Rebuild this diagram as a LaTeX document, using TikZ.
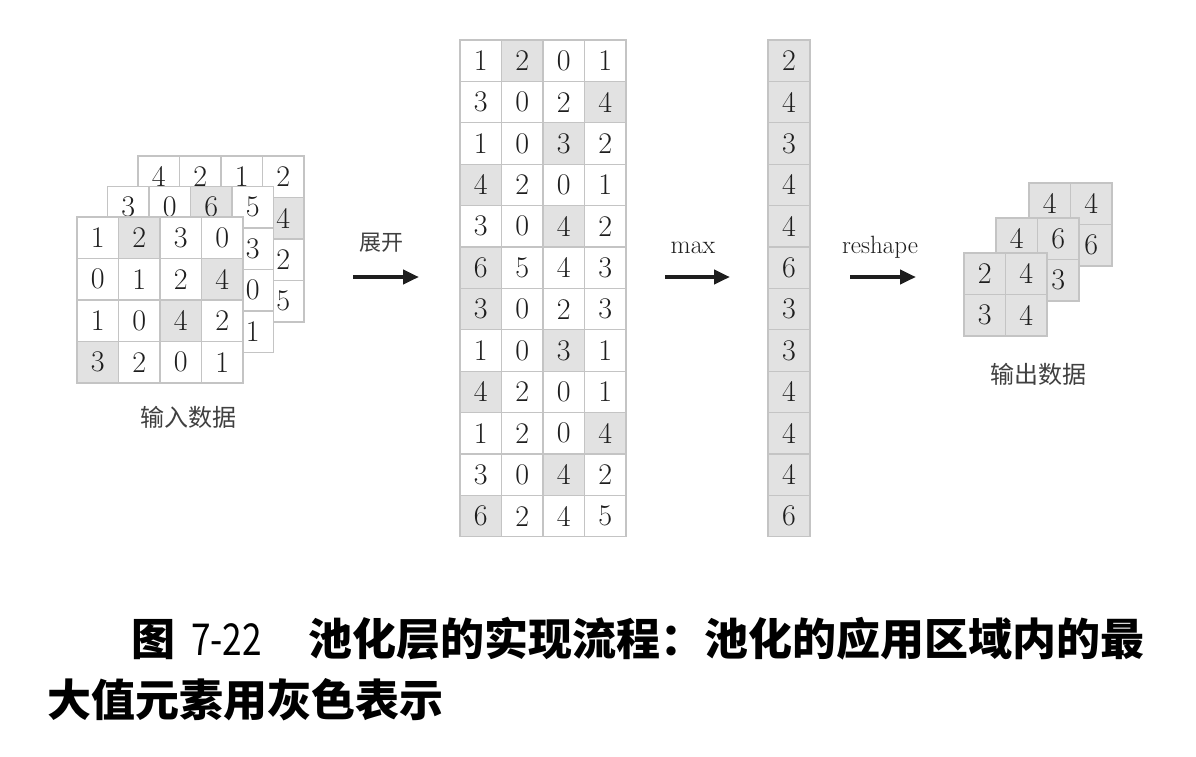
\documentclass[tikz,border=0pt]{standalone}
\usepackage{fontspec}
\usepackage{graphicx}
\newfontfamily\cjk{Noto Sans CJK SC}
\usetikzlibrary{arrows.meta}
\definecolor{gridc}{HTML}{C4C4C4}
\definecolor{cf0}{HTML}{FFFFFF}
\definecolor{cf1}{HTML}{E2E2E2}
\definecolor{txtc}{HTML}{1E1E1E}
\newcommand\digitfont{\fontsize{30}{30}\selectfont}
\tikzset{
  cellbox/.style={draw=gridc, line width=1.2pt, inner sep=0pt, font=\digitfont, text=txtc},
  flowarrow/.style={line width=4.5pt, draw=txtc, -{Triangle[length=16pt,width=14pt]}},
  steplabel/.style={text=txtc, anchor=base},
  cjklabel/.style={text=txtc!85, font=\cjk\fontsize{24}{24}\selectfont},
  captext/.style={text=black, anchor=base west, font=\cjk\bfseries\fontsize{44}{44}\selectfont, inner sep=0pt}
}
% name, x0, y0, cell width, cell height, rows (hidden cells carry no digit)
\newcommand\mymat[6]{%
  \foreach \row [count=\r] in {#6}{%
    \foreach \v/\g [count=\c] in \row {%
      \node[cellbox, minimum width=#4pt, minimum height=#5pt, fill=cf\g] (#1-\r-\c)
        at ({#2+(\c-0.5)*#4},{#3+(\r-0.5)*#5}) {\v};
    }%
  }%
}
\begin{document}
\begin{tikzpicture}[x=1pt,y=-1pt]
\fill[white] (0,0) rectangle (1196,756);
\useasboundingbox (0,0) rectangle (1196,756);

% ---- input data (three channels) ----
\mymat{inc}{138}{156}{41.5}{41.5}{{4/0,2/0,1/0,2/0},{{}/0,{}/0,{}/0,4/1},{{}/0,{}/0,{}/1,2/0},{{}/1,{}/0,{}/0,5/0}}
\mymat{inb}{107.5}{186.5}{41.5}{41.5}{{3/0,0/0,6/1,5/0},{{}/1,{}/0,{}/0,3/0},{{}/1,{}/0,{}/0,0/0},{{}/0,{}/0,{}/1,1/0}}
\mymat{ina}{77}{217}{41.5}{41.5}{{1/0,2/1,3/0,0/0},{0/0,1/0,2/0,4/1},{1/0,0/0,4/1,2/0},{3/1,2/0,0/0,1/0}}
\node[cjklabel] (inlabel) at (188,417) {输入数据};

% ---- expanded table ----
\mymat{ex}{460}{40}{41.5}{41.4}{%
{1/0,2/1,0/0,1/0},{3/0,0/0,2/0,4/1},{1/0,0/0,3/1,2/0},{4/1,2/0,0/0,1/0},%
{3/0,0/0,4/1,2/0},{6/1,5/0,4/0,3/0},{3/1,0/0,2/0,3/0},{1/0,0/0,3/1,1/0},%
{4/1,2/0,0/0,1/0},{1/0,2/0,0/0,4/1},{3/0,0/0,4/1,2/0},{6/1,2/0,4/0,5/0}}

% ---- max column ----
\mymat{mx}{768}{40}{42}{41.4}{{2/1},{4/1},{3/1},{4/1},{4/1},{6/1},{3/1},{3/1},{4/1},{4/1},{4/1},{6/1}}

% ---- output data ----
\mymat{outc}{1029}{183}{41.5}{41.5}{{4/1,4/1},{{}/1,6/1}}
\mymat{outb}{996}{218}{41.5}{41.5}{{4/1,6/1},{{}/1,3/1}}
\mymat{outa}{964}{253}{41.5}{41.5}{{2/1,4/1},{3/1,4/1}}
\node[cjklabel] (outlabel) at (1038,374) {输出数据};

% ---- arrows and labels ----
\coordinate (a1s) at (353,277); \coordinate (a1e) at (419,277);
\coordinate (a2s) at (665,277); \coordinate (a2e) at (730,277);
\coordinate (a3s) at (850,277); \coordinate (a3e) at (916,277);
\draw[flowarrow] (a1s) -- (a1e);
\draw[flowarrow] (a2s) -- (a2e);
\draw[flowarrow] (a3s) -- (a3e);
\node[cjklabel, font=\cjk\fontsize{22}{22}\selectfont, anchor=base] (lab1) at (381,250) {展开};
\node[steplabel, font=\fontsize{26}{26}\selectfont] (lab2) at (693,253) {max};
\node[steplabel, font=\fontsize{25}{25}\selectfont] (lab3) at (880,253) {reshape};

% ---- caption ----
\node[captext] (cap1) at (131,655) {\makebox[60pt][l]{图}\makebox[117pt][l]{\mdseries\scalebox{0.8}[1]{7-22}}池化层的实现流程：池化的应用区域内的最};
\node[captext] (cap2) at (47,716) {大值元素用灰色表示};
\end{tikzpicture}
\end{document}
